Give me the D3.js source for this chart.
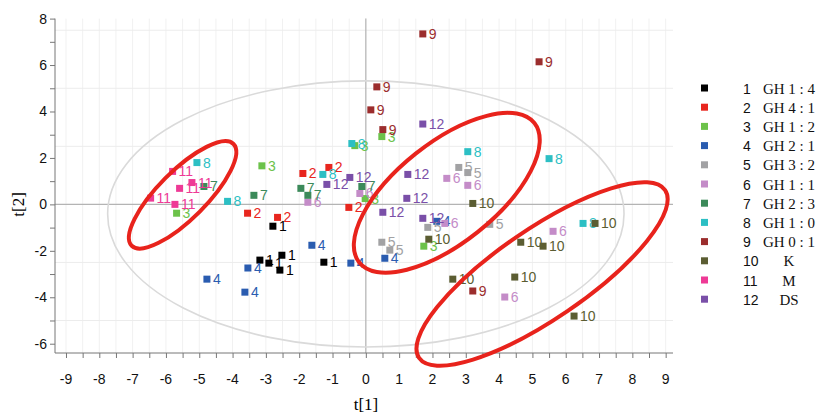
<!DOCTYPE html>
<html>
<head>
<meta charset="utf-8">
<script src="https://cdn.jsdelivr.net/npm/d3@7"></script>
<style>
  body { margin: 0; background: #fff; }
  svg { display: block; }
  .tick-lbl { font-family: "Liberation Sans Narrow", "Arial Narrow", "Liberation Sans", Arial, sans-serif; font-size: 14px; fill: #111; }
  .pt-lbl { font-family: "Liberation Sans Narrow", "Arial Narrow", "Liberation Sans", Arial, sans-serif; font-size: 14px; }
  .serif { font-family: "Liberation Serif", "Times New Roman", serif; }
</style>
</head>
<body>
<svg id="chart" width="817" height="415"></svg>
<script>
// groups (legend order)
const groupIds = [1, 2, 3, 4, 5, 6, 7, 8, 9, 10, 11, 12]
const groupNames = ['GH 1 : 4', 'GH 4 : 1', 'GH 1 : 2', 'GH 2 : 1', 'GH 3 : 2', 'GH 1 : 1',
                    'GH 2 : 3', 'GH 1 : 0', 'GH 0 : 1', 'K', 'M', 'DS']
const groupColors = ['#000000', '#e8261e', '#6cc24a', '#2a5cb0', '#a2a2a4', '#c48cc8',
                     '#3c8a5a', '#2cbfc4', '#9b2d2d', '#5b5d32', '#ee3a96', '#7a4fa8']

// score values, per group: [t1, t2]
const g1  = [[-2.79, -0.94], [-3.18, -2.40], [-2.91, -2.53], [-2.52, -2.19], [-2.58, -2.83], [-1.26, -2.49]]
const g2  = [[-3.55, -0.38], [-2.65, -0.56], [-1.89, 1.33], [-1.11, 1.59], [-0.51, -0.13]]
const g3  = [[-5.68, -0.38], [-3.12, 1.66], [-0.33, 2.53], [0.48, 2.92], [-0.02, 0.25], [1.74, -1.80]]
const g4  = [[-4.77, -3.22], [-3.63, -3.78], [-3.54, -2.74], [-1.62, -1.76], [-0.45, -2.53], [0.57, -2.32], [2.13, -0.73]]
const g5  = [[0.48, -1.63], [0.72, -1.97], [1.86, -0.99], [2.79, 1.59], [3.06, 1.37], [3.72, -0.86]]
const g6  = [[-1.74, 0.09], [-0.18, 0.47], [2.43, 1.12], [3.06, 0.82], [2.37, -0.82], [5.62, -1.16], [4.17, -3.99]]
const g7  = [[-4.86, 0.77], [-3.36, 0.39], [-1.95, 0.69], [-1.74, 0.39], [-0.12, 0.77]]
const g8  = [[-5.07, 1.80], [-4.15, 0.13], [-1.29, 1.29], [-0.42, 2.62], [3.06, 2.27], [5.50, 1.97], [6.52, -0.82]]
const g9  = [[1.71, 7.34], [5.20, 6.14], [0.33, 5.06], [0.15, 4.07], [0.51, 3.22], [3.21, -3.73]]
const g10 = [[3.21, 0.04], [1.89, -1.50], [4.65, -1.63], [5.32, -1.80], [6.88, -0.82], [2.61, -3.22], [4.47, -3.13], [6.25, -4.81]]
const g11 = [[-5.80, 1.42], [-5.22, 0.94], [-5.59, 0.69], [-6.46, 0.27], [-5.73, 0.00]]
const g12 = [[1.71, 3.46], [-1.17, 0.86], [-0.48, 1.16], [1.26, 1.29], [1.23, 0.26], [0.51, -0.34], [1.71, -0.60]]
const groupValues = [g1, g2, g3, g4, g5, g6, g7, g8, g9, g10, g11, g12]

// axis ticks
const xTickLabels = [-9, -8, -7, -6, -5, -4, -3, -2, -1, 0, 1, 2, 3, 4, 5, 6, 7, 8, 9]
const yTickLabels = [-6, -4, -2, 0, 2, 4, 6, 8]

// Hotelling ellipse and hand-drawn group ellipses: [cx, cy, semi-axis a (t1 units), semi-axis b (t1 units), angle]
const hotelling = [0, -0.41, 7.75, 5.73]
const redRings = [[-5.5, 0.41, 2.16, 0.72, -45], [2.43, 0.5, 3.36, 1.5, -38.5], [5.29, -3.0, 4.47, 1.35, -34.3]]

const svg = d3.select('#chart')
const x = d3.scaleLinear().domain([-9.33, 9.22]).range([55, 673])
const y = d3.scaleLinear().domain([-6.4, 8]).range([353, 18.6])
const ux = v => x(v) - x(0) // t1 units -> px

// faint grid
svg.append('g').selectAll('line').data(d3.range(-9, 9.01, 0.5)).enter().append('line')
  .attr('x1', d => x(d)).attr('x2', d => x(d)).attr('y1', y(8)).attr('y2', y(-6.4))
  .attr('stroke', '#f1f1f1')
svg.append('g').selectAll('line').data([-5, -2.5, 2.5, 5, 7.5]).enter().append('line')
  .attr('x1', x(-9.33)).attr('x2', x(9.22)).attr('y1', d => y(d)).attr('y2', d => y(d))
  .attr('stroke', '#ececec')

// zero lines
svg.append('line').attr('x1', x(0)).attr('x2', x(0)).attr('y1', y(8)).attr('y2', y(-6.4))
  .attr('stroke', '#b4b4b4').attr('stroke-width', 1.2)
svg.append('line').attr('x1', x(-9.33)).attr('x2', x(9.22)).attr('y1', y(0)).attr('y2', y(0))
  .attr('stroke', '#b4b4b4').attr('stroke-width', 1.2)

// Hotelling T2 ellipse
svg.append('ellipse')
  .attr('cx', x(hotelling[0])).attr('cy', y(hotelling[1]))
  .attr('rx', ux(hotelling[2])).attr('ry', y(0) - y(hotelling[3]))
  .attr('fill', 'none').attr('stroke', '#dadada').attr('stroke-width', 1.6)

// axes
const xAxis = d3.axisBottom(x).tickValues(d3.range(-9, 9.01, 0.5)).tickSize(5).tickFormat('')
const gx = svg.append('g').attr('transform', `translate(0,${y(-6.4)})`).call(xAxis)
gx.select('.domain').attr('d', `M${x(-9.33)},0H${x(9.22)}`)
gx.selectAll('line').attr('stroke', '#777')
gx.select('.domain').attr('stroke', '#777')
svg.append('g').selectAll('text').data(xTickLabels).enter().append('text')
  .attr('class', 'tick-lbl').attr('x', d => x(d)).attr('y', 384)
  .attr('text-anchor', 'middle').text(d => d)

const yAxis = d3.axisLeft(y).tickValues(d3.range(-6, 8.01, 1)).tickSize(5).tickFormat('')
const gy = svg.append('g').attr('transform', `translate(${x(-9.33)},0)`).call(yAxis)
gy.select('.domain').attr('d', `M0,${y(8)}V${y(-6.4)}`)
gy.selectAll('line').attr('stroke', '#777')
gy.select('.domain').attr('stroke', '#777')
svg.append('g').selectAll('text').data(yTickLabels).enter().append('text')
  .attr('class', 'tick-lbl').attr('x', 47).attr('y', d => y(d) + 5)
  .attr('text-anchor', 'end').text(d => d)

// axis titles
svg.append('text').attr('class', 'serif').attr('x', 366).attr('y', 410)
  .attr('text-anchor', 'middle').attr('font-size', 17).text('t[1]')
svg.append('text').attr('class', 'serif').attr('transform', `translate(24,${y(0)}) rotate(-90)`)
  .attr('text-anchor', 'middle').attr('font-size', 17).text('t[2]')

// points
const pts = []
groupValues.forEach((vals, i) => vals.forEach(v => pts.push({g: groupIds[i], c: groupColors[i], t1: v[0], t2: v[1]})))
const gp = svg.append('g').selectAll('g').data(pts).enter().append('g')
  .attr('transform', d => `translate(${x(d.t1)},${y(d.t2)})`)
gp.append('rect').attr('x', -3.5).attr('y', -3.5).attr('width', 7).attr('height', 7).attr('fill', d => d.c)
gp.append('text').attr('class', 'pt-lbl').attr('x', 6).attr('y', 5).attr('fill', d => d.c).text(d => d.g)

// red ellipses
svg.append('g').selectAll('ellipse').data(redRings).enter().append('ellipse')
  .attr('transform', d => `translate(${x(d[0])},${y(d[1])}) rotate(${d[4]})`)
  .attr('rx', d => ux(d[2])).attr('ry', d => ux(d[3]))
  .attr('fill', 'none').attr('stroke', '#e8231c').attr('stroke-width', 4)

// legend
const lg = svg.append('g').selectAll('g').data(groupIds).enter().append('g')
  .attr('transform', (d, i) => `translate(0,${88 + i * 19.2})`)
lg.append('rect').attr('x', 701).attr('y', -3.5).attr('width', 7).attr('height', 7)
  .attr('fill', (d, i) => groupColors[i])
lg.append('text').attr('class', 'pt-lbl').attr('x', 743).attr('y', 5.5).attr('fill', '#111')
  .attr('font-size', 15).text(d => d)
lg.append('text').attr('class', 'serif').attr('x', 789).attr('y', 5.5).attr('text-anchor', 'middle')
  .attr('font-size', 15).attr('fill', '#111').text((d, i) => groupNames[i])
</script>
</body>
</html>
